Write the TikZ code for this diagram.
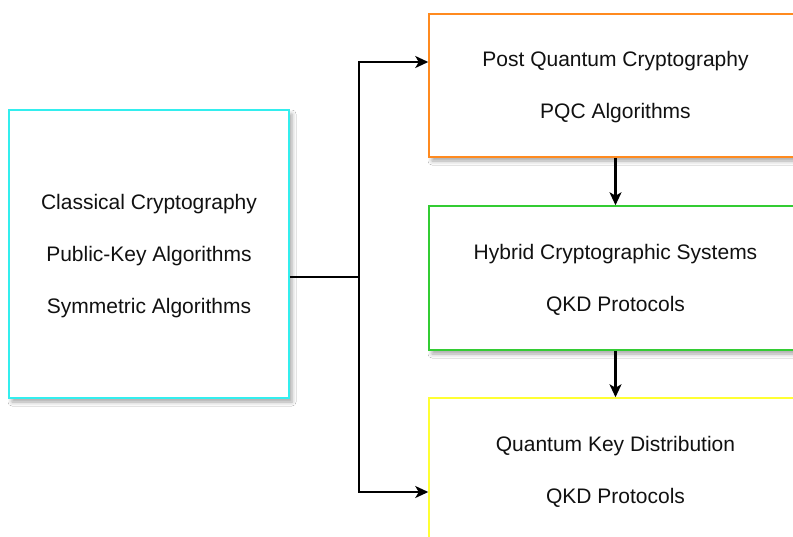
\documentclass[tikz,border=0pt]{standalone}
\usepackage{fontspec}
\setmainfont{Liberation Sans}
\usetikzlibrary{arrows.meta,shadows.blur}
\definecolor{boxcyan}{HTML}{33EEEE}
\definecolor{boxorange}{HTML}{FF8A1F}
\definecolor{boxgreen}{HTML}{33CC33}
\definecolor{boxyellow}{HTML}{FFFF33}
\definecolor{inkgray}{HTML}{111111}
\newcommand{\firstline}{\rule{0pt}{19pt}}
\tikzset{
  stagebox/.style={draw, line width=1.5pt, fill=white, inner sep=0pt,
    align=center, text=inkgray, font=\fontsize{21}{52}\selectfont,
    blur shadow={shadow xshift=3pt, shadow yshift=-4pt,
      shadow blur radius=4pt, shadow opacity=35}},
  link/.style={line width=2.1pt, black},
  linkarrow/.style={link, -{Stealth[length=13pt, width=12pt, inset=3.5pt]}}
}
\begin{document}
\begin{tikzpicture}[x=1pt,y=-1pt]
\useasboundingbox (0,0) rectangle (793,536);
\clip (0,0) rectangle (793,536);
\fill[white] (0,0) rectangle (793,536);

% stages
\node[stagebox, draw=boxcyan, minimum width=280pt, minimum height=288pt]
  (classic) at (149,254)
  {\firstline Classical Cryptography\\Public-Key Algorithms\\Symmetric Algorithms};
\node[stagebox, draw=boxorange, minimum width=373pt, minimum height=143pt]
  (pqc) at (615.5,85.5)
  {\firstline Post Quantum Cryptography\\PQC Algorithms};
\node[stagebox, draw=boxgreen, minimum width=373pt, minimum height=144pt]
  (hybrid) at (615.5,278)
  {\firstline Hybrid Cryptographic Systems\\QKD Protocols};
\node[stagebox, draw=boxyellow, minimum width=373pt, minimum height=143pt]
  (qkd) at (615.5,469.5)
  {\firstline Quantum Key Distribution\\QKD Protocols};

% branching connector
\coordinate (jmid) at (359,277);
\coordinate (jtop) at (359,62);
\coordinate (jbot) at (359,492);
\draw[link] (jmid -| classic.east) -- (jmid);
\draw[linkarrow] (jmid) -- (jtop) -- (jtop -| pqc.west);
\draw[linkarrow] (jmid) -- (jbot) -- (jbot -| qkd.west);

% chain between stages
\draw[linkarrow] (pqc.south) -- (hybrid.north);
\draw[linkarrow] (hybrid.south) -- (qkd.north);
\end{tikzpicture}
\end{document}
